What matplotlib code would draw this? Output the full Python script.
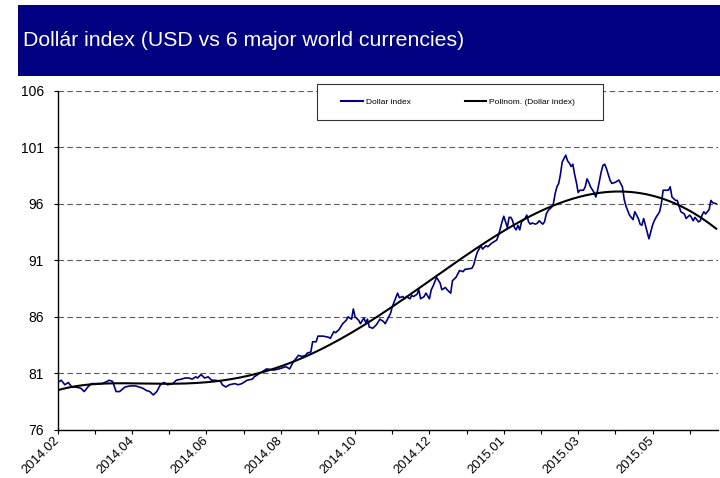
import numpy as np
import matplotlib
matplotlib.use("Agg")
import matplotlib.pyplot as plt
from matplotlib.patches import Rectangle
from matplotlib.lines import Line2D
from matplotlib.transforms import ScaledTranslation
from numpy.polynomial import Polynomial

plt.rcParams["font.family"] = ["Liberation Sans", "DejaVu Sans"]

TITLE = "Dollár index (USD vs 6 major world currencies)"
SERIES_LABEL = "Dollar index"
TREND_LABEL = "Polinom. (Dollar index)"

# trading-day index (from start of Feb 2014) and index value
DAYS = [
    0, 2, 4, 6, 8, 10, 13, 15, 17, 19, 22, 25, 28, 29, 31, 33, 35, 38, 41, 44,
    46, 48, 50, 52, 54, 56, 58, 60, 62, 65, 67, 70, 72, 74, 76, 78, 79, 81, 83, 85,
    87, 89, 92, 93, 95, 97, 100, 102, 104, 107, 110, 111,
    114, 118, 122, 125, 129, 131, 133, 136, 138, 140, 141, 143, 144, 146, 147, 150,
    153, 154, 156, 157, 159, 161, 163, 164, 166, 167, 168, 170, 171, 173, 174, 175,
    176, 178, 180, 182, 184, 185, 187, 188, 189, 190, 192, 193, 195, 196, 197, 199,
    200, 201, 203, 204, 205, 207, 208, 210, 211, 212, 213, 214, 216, 217, 219, 220,
    222, 223, 225, 227, 229, 230,
    234, 235, 236, 237, 239, 240, 242, 243, 245, 247, 248, 249, 251, 252, 253, 254,
    255, 256, 257, 258, 259, 260, 261, 262, 264, 265, 266, 267, 268, 270, 271, 272,
    274, 275, 276, 277, 279, 280, 281, 282,
    283, 284, 285, 287, 288, 289, 290, 291, 292, 293, 294, 295, 297, 298, 299, 300,
    301, 303, 304, 305, 307, 308, 309, 310, 312, 313, 315, 316, 317, 319, 320, 321,
    322, 323, 325, 326, 328, 329, 330, 331, 332, 333, 334, 336, 337, 338, 340, 341,
    342, 344, 345, 346, 347, 349, 350, 351, 352, 354, 355, 357, 358, 359, 360, 362,
    363, 364, 365, 366, 368, 369, 370, 372,
]
DXY = [
    80.2, 80.4, 80.0, 80.2, 79.8, 79.8, 79.7, 79.4, 79.8, 80.1, 80.1, 80.1, 80.3, 80.4, 80.3, 79.4, 79.4, 79.8, 79.9, 79.9,
    79.8, 79.7, 79.5, 79.4, 79.1, 79.4, 80.0, 80.2, 80.0, 80.1, 80.4, 80.5, 80.6, 80.6, 80.5, 80.7, 80.6, 80.9, 80.6, 80.7,
    80.4, 80.4, 80.3, 80.0, 79.8, 80.0, 80.1, 80.0, 80.1, 80.4, 80.5, 80.7,
    81.0, 81.4, 81.3, 81.4, 81.6, 81.4, 82.0, 82.6, 82.5, 82.6, 82.8, 82.9, 83.8, 83.8, 84.3, 84.3,
    84.2, 84.1, 84.7, 84.6, 84.9, 85.4, 85.7, 86.0, 85.8, 86.7, 86.0, 85.7, 85.4, 85.9, 85.5, 85.8,
    85.1, 85.0, 85.3, 85.8, 85.6, 85.4, 86.0, 86.3, 86.9, 87.3, 88.1, 87.7, 87.8, 87.6, 87.8, 87.6,
    87.9, 87.8, 88.0, 88.4, 87.6, 87.8, 88.1, 87.6, 88.4, 88.7, 89.1, 89.5, 89.0, 88.4, 88.6, 88.4,
    88.1, 89.2, 89.5, 90.1, 90.0, 90.2,
    90.3, 90.6, 91.2, 91.7, 92.3, 92.0, 92.3, 92.2, 92.5, 92.7, 92.8, 93.2, 94.4, 94.9, 94.4, 93.9,
    94.8, 94.8, 94.5, 93.9, 93.7, 94.1, 93.7, 94.4, 94.7, 95.0, 94.4, 94.2, 94.3, 94.2, 94.3, 94.5,
    94.2, 94.4, 95.1, 95.4, 95.7, 96.0, 96.9, 97.5,
    97.8, 98.6, 99.7, 100.3, 99.8, 99.6, 99.3, 99.5, 98.6, 97.9, 97.0, 97.2, 97.2, 97.5, 98.2, 97.9,
    97.5, 97.0, 96.6, 97.2, 98.8, 99.4, 99.5, 99.1, 98.1, 97.8, 97.9, 98.0, 98.1, 97.5, 96.4, 95.8,
    95.4, 95.0, 94.6, 95.3, 94.7, 94.2, 94.1, 94.7, 94.1, 93.5, 92.9, 94.1, 94.5, 94.8, 95.3, 96.0,
    97.2, 97.2, 97.2, 97.5, 96.6, 96.3, 96.3, 95.8, 95.3, 95.1, 94.7, 95.0, 94.8, 94.5, 94.8, 94.4,
    94.5, 95.0, 95.3, 95.1, 95.5, 96.3, 96.1, 96.0,
]

TICK_LABELS = ["2014.02", "2014.04", "2014.06", "2014.08", "2014.10",
               "2014.12", "2015.01", "2015.03", "2015.05"]
DAYS_PER_TICK = 21
N_TICKS = 18
LAST_DAY = 373
Y_MIN, Y_MAX, Y_STEP = 76, 106, 5
TREND_ORDER = 5

NAVY = "#000080"

fig = plt.figure(figsize=(7.2, 4.78), dpi=100)
W, H = 720, 478

# title banner
fig.patches.append(Rectangle((18 / W, 1 - 76 / H), 702 / W, 71 / H,
                             transform=fig.transFigure, facecolor=NAVY,
                             edgecolor="none", zorder=0))
fig.text(23 / W, 1 - 41 / H, TITLE, color="white", fontsize=15.3,
         va="center", ha="left")

ax = fig.add_axes([57.7 / W, 1 - 430 / H, (718 - 57.7) / W, (430 - 90.7) / H])

days = np.array(DAYS, dtype=float)
vals = np.array(DXY)
ax.plot(days, vals, color=NAVY, lw=1.2, zorder=3)

# polynomial trendline fitted to the series
trend = Polynomial.fit(days, vals, TREND_ORDER)
xt = np.linspace(0, LAST_DAY - 1, 400)
ax.plot(xt, trend(xt), color="black", lw=1.5, zorder=4)

ax.set_xlim(0, LAST_DAY)
ax.set_ylim(Y_MIN, Y_MAX)
yt = np.arange(Y_MIN, Y_MAX + 1, Y_STEP)
ax.set_yticks(yt)
ax.set_yticklabels([str(v) for v in yt])
for v in yt[1:]:
    ax.axhline(v, color="#5a5a5a", lw=0.8, ls=(0, (5, 3)), zorder=1)

tick_pos = np.arange(N_TICKS) * DAYS_PER_TICK
ax.set_xticks(tick_pos)
labels = []
for i in range(N_TICKS):
    labels.append(TICK_LABELS[i // 2] if i % 2 == 0 else "")
ax.set_xticklabels(labels, rotation=45, rotation_mode="anchor",
                   ha="right", va="center")
offset = ScaledTranslation(5 / 100, 0, fig.dpi_scale_trans)
for lab in ax.get_xticklabels():
    lab.set_transform(lab.get_transform() + offset)

ax.tick_params(axis="x", length=3, width=0.8, pad=3, labelsize=9.3, colors="black")
ax.tick_params(axis="y", length=3, width=0.8, pad=7, labelsize=10, colors="black")
for side in ("top", "right"):
    ax.spines[side].set_visible(False)
for side in ("left", "bottom"):
    ax.spines[side].set_linewidth(1.0)

# legend box
fig.patches.append(Rectangle((317 / W, 1 - 120 / H), 286 / W, 36 / H,
                             transform=fig.transFigure, facecolor="white",
                             edgecolor="#333333", lw=0.8, zorder=5))
handles = [Line2D([], [], color=NAVY, lw=1.5),
           Line2D([], [], color="black", lw=1.5)]
leg = fig.legend(handles, [SERIES_LABEL, TREND_LABEL], loc="center",
                 bbox_to_anchor=(458 / W, 1 - 102 / H), ncol=2, frameon=False,
                 fontsize=6, handlelength=2.6, handletextpad=0.3,
                 columnspacing=6.5)
leg.set_zorder(6)

fig.savefig("out.png", dpi=100)
